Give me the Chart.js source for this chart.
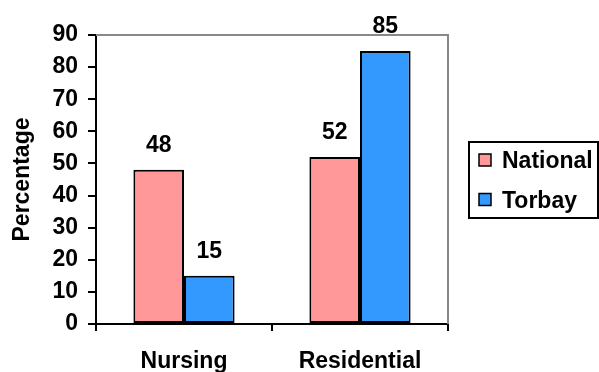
<!DOCTYPE html>
<html>
<head>
<meta charset="utf-8">
<script src="https://cdn.jsdelivr.net/npm/chart.js@4/dist/chart.umd.min.js"></script>
<style>
html,body{margin:0;padding:0;background:#fff;}
#wrap{width:599px;height:372px;position:relative;}
</style>
</head>
<body>
<div id="wrap"><canvas id="c" width="599" height="372"></canvas></div>
<script>
const categories = ['Nursing', 'Residential'];
const seriesNames = ['National', 'Torbay'];
const nationalValues = [48, 52];
const torbayValues = [15, 85];
const yTickValues = [0, 10, 20, 30, 40, 50, 60, 70, 80, 90];
const yAxisTitle = 'Percentage';

const FONT = "'Liberation Sans', Arial, sans-serif";
const FS = 23;

const frameAndLabels = {
  id: 'frameAndLabels',
  beforeDatasetsDraw(chart) {
    const {ctx, chartArea: a} = chart;
    ctx.save();
    ctx.strokeStyle = '#888888';
    ctx.lineWidth = 2;
    ctx.beginPath();
    ctx.moveTo(a.left, a.top);
    ctx.lineTo(a.right, a.top);
    ctx.lineTo(a.right, a.bottom);
    ctx.stroke();
    ctx.restore();
  },
  afterDatasetsDraw(chart) {
    const {ctx} = chart;
    ctx.save();
    ctx.font = 'bold ' + FS + 'px ' + FONT;
    ctx.fillStyle = '#000';
    ctx.textAlign = 'center';
    ctx.textBaseline = 'alphabetic';
    chart.data.datasets.forEach((ds, di) => {
      const meta = chart.getDatasetMeta(di);
      meta.data.forEach((el, i) => {
        ctx.fillText(String(ds.data[i]), el.x, el.y - 18);
      });
    });
    // legend
    const lx = 469, ly = 142, lw = 129, lh = 76;
    ctx.lineWidth = 2;
    ctx.strokeStyle = '#000';
    ctx.strokeRect(lx, ly, lw, lh);
    ctx.textAlign = 'left';
    ctx.textBaseline = 'alphabetic';
    chart.data.datasets.forEach((ds, di) => {
      const cy = ly + 18 + di * 39.5;
      ctx.fillStyle = ds.backgroundColor;
      ctx.fillRect(lx + 10, cy - 6, 12, 12);
      ctx.lineWidth = 1.5;
      ctx.strokeRect(lx + 10, cy - 6, 12, 12);
      ctx.fillStyle = '#000';
      ctx.fillText(ds.label, lx + 33, cy + 8);
    });
    ctx.restore();
  }
};

new Chart(document.getElementById('c'), {
  type: 'bar',
  data: {
    labels: categories,
    datasets: [
      {label: seriesNames[0], data: nationalValues, backgroundColor: '#FF9999', borderColor: '#000', borderWidth: 2, borderSkipped: false},
      {label: seriesNames[1], data: torbayValues, backgroundColor: '#3399FF', borderColor: '#000', borderWidth: 2, borderSkipped: false}
    ]
  },
  options: {
    responsive: false,
    animation: false,
    devicePixelRatio: 1,
    layout: {padding: {top: 35, right: 151, left: 0, bottom: 0}},
    plugins: {legend: {display: false}, tooltip: {enabled: false}},
    datasets: {bar: {categoryPercentage: 0.575, barPercentage: 1.0}},
    scales: {
      x: {
        grid: {display: true, drawOnChartArea: false, offset: true, color: '#000', lineWidth: 2, tickLength: 7},
        border: {display: true, color: '#000', width: 2},
        ticks: {color: '#000', font: {family: FONT, size: FS, weight: 'bold'}, padding: 17},
        afterFit(s) { s.height = 48; }
      },
      y: {
        min: 0, max: 90,
        afterBuildTicks(s) { s.ticks = yTickValues.map(v => ({value: v})); },
        grid: {display: true, drawOnChartArea: false, color: '#000', lineWidth: 2, tickLength: 8},
        border: {display: true, color: '#000', width: 2},
        ticks: {color: '#000', font: {family: FONT, size: FS, weight: 'bold'}, padding: 10},
        title: {display: true, text: yAxisTitle, color: '#000', font: {family: FONT, size: FS, weight: 'bold'}, padding: {top: 9, bottom: 0}},
        afterFit(s) { s.width = 96; }
      }
    }
  },
  plugins: [frameAndLabels]
});
</script>
</body>
</html>
